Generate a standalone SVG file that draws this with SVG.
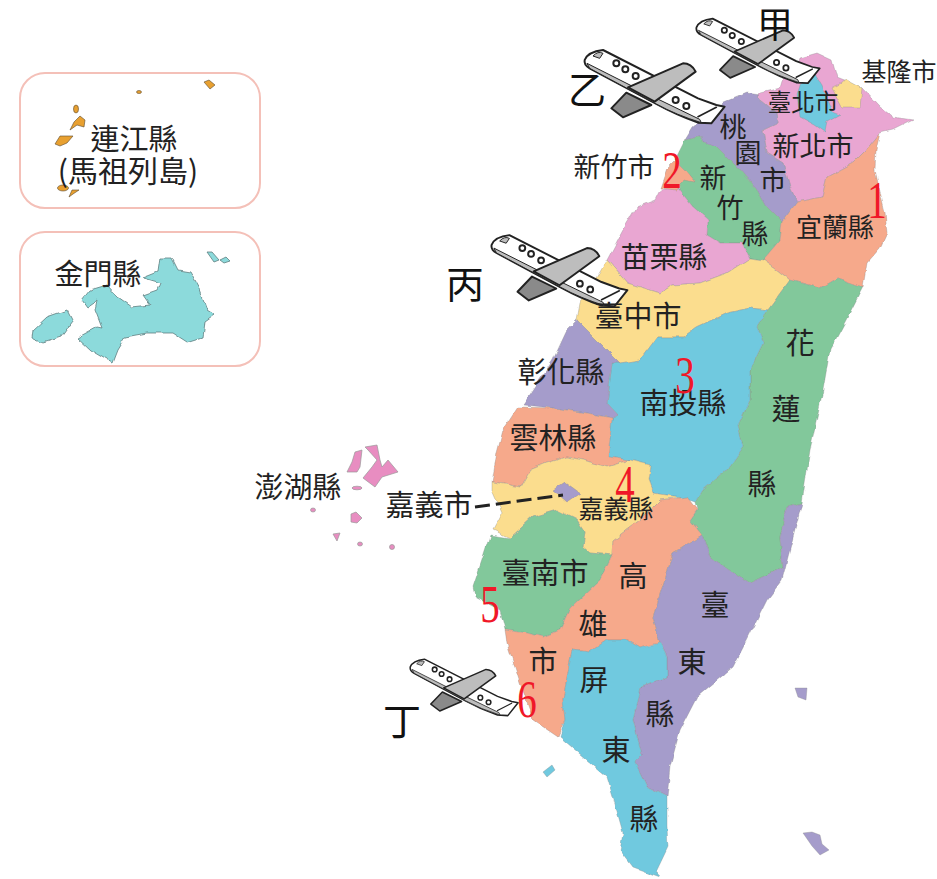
<svg xmlns="http://www.w3.org/2000/svg" xmlns:xlink="http://www.w3.org/1999/xlink" width="937" height="879" viewBox="0 0 937 879">
<style>
.pk{fill:#E9A6D2}.pu{fill:#A59CCB}.gr{fill:#82C89B}.sa{fill:#F6A98B}.ye{fill:#FBDD8E}.bl{fill:#70C9DF}
.c polygon{stroke:#8a8a8a;stroke-opacity:.35;stroke-width:1;stroke-linejoin:round}
.box{fill:#fff;stroke:#F4C0B8;stroke-width:2}
.kin{fill:#8CDADB;stroke:#5f7f80;stroke-width:.8}
.mat{fill:#E8A030;stroke:#5a4a30;stroke-width:.6}
.pen{fill:#E88DC1;stroke:#999;stroke-width:.7}
text{font-family:"Noto Sans CJK TC","Noto Sans CJK SC",sans-serif;fill:#222;text-anchor:middle}
.t29{font-size:29px}.t27{font-size:27px}.t26{font-size:26px}.t25{font-size:25px}.t23{font-size:23.5px}
.n{font-family:"Liberation Serif",serif;font-size:52px;fill:#F01828}
.k{font-size:38px;fill:#111}
.pb{fill:#fff;stroke:#222;stroke-width:6;stroke-linejoin:round}
.pw{fill:#bdbdbd;stroke:#222;stroke-width:6;stroke-linejoin:round}
.pd{fill:#8a8a8a;stroke:#222;stroke-width:6;stroke-linejoin:round}
.pl{fill:none;stroke:#222;stroke-width:5;stroke-linecap:round}
</style>
<defs>
<filter id="rough" x="-5%" y="-5%" width="110%" height="110%">
<feTurbulence type="fractalNoise" baseFrequency=".09" numOctaves="2" seed="4"/>
<feDisplacementMap in="SourceGraphic" scale="5" xChannelSelector="R" yChannelSelector="G"/>
</filter>
<g id="plane" transform="scale(.3333) translate(-70,-165)">
<path class="pd" d="M155 325L200 278L275 315L190 352Z"/>
<path class="pb" d="M75 180Q85 155 130 150L415 295L470 315L495 320L455 370L415 368Q350 345 290 312L90 205Q72 195 75 180Z"/>
<path class="pw" d="M82 190L290 295L420 358L425 368Q350 345 290 312L90 205Z" style="stroke-width:3"/>
<path class="pw" d="M100 168Q115 152 130 160L120 175Z" style="stroke-width:3"/>
<path class="pw" d="M205 262L370 190Q395 190 408 215L285 305Z"/>
<path class="pl" d="M415 350L470 322"/>
<circle class="pb" cx="170" cy="190" r="9"/><circle class="pb" cx="197" cy="208" r="9"/><circle class="pb" cx="228" cy="228" r="9"/>
<circle class="pb" cx="348" cy="300" r="9"/><circle class="pb" cx="380" cy="318" r="9"/>
</g>
</defs>

<g id="insets">
<rect class="box" x="20" y="73" width="240" height="135" rx="25"/>
<rect class="box" x="20" y="232" width="240" height="134" rx="25"/>
</g>

<g id="matsu">
<polygon class="mat" points="55,144 60,136 73,136 67,143 60,146"/>
<polygon class="mat" points="70,130 74,122 80,116 85,120 84,127 77,125"/>
<ellipse class="mat" cx="76" cy="109" rx="2.5" ry="4"/>
<ellipse class="mat" cx="63" cy="188" rx="5.5" ry="3"/>
<polygon class="mat" points="69,197 72,190 79,190 73,194"/>
<polygon class="mat" points="204,82 209,80 215,85 210,89"/>
<ellipse class="mat" cx="139" cy="92" rx="2.5" ry="1.5"/>
</g>

<g id="kinmen">
<polygon class="kin" filter="url(#rough)" points="143,278 158,272 160,258 172,258 178,270 190,272 200,290 207,310 215,315 205,322 203,337 187,342 173,333 147,333 125,337 117,350 112,363 90,350 77,338 97,327 102,328 95,310 97,300 87,307 82,300 90,290 107,285 118,297 132,307 150,305 143,295 157,290 160,283"/>
<polygon class="kin" filter="url(#rough)" points="33,330 47,317 67,310 73,322 62,337 43,343 32,338"/>
<polygon class="kin" points="207,252 212,252 219,260 214,262"/>
<polygon class="kin" points="220,260 226,257 230,261 224,263"/>
</g>

<g id="penghu">
<polygon class="pen" points="355,452 362,450 360,467 357,472 347,472 352,462"/>
<polygon class="pen" points="365,447 377,445 380,460 382,467 388,460 398,472 382,477 375,487 363,478 372,467 377,460 368,450"/>
<ellipse class="pen" cx="357" cy="488" rx="5" ry="1.8"/>
<ellipse class="pen" cx="313" cy="510" rx="2.5" ry="2"/>
<polygon class="pen" points="351,514 356,512 362,518 357,523 351,522"/>
<polygon class="pen" points="333,534 340,533 337,541"/>
<ellipse class="pen" cx="360" cy="544" rx="2.5" ry="2"/>
<ellipse class="pen" cx="392" cy="547" rx="2.5" ry="2.5"/>
</g>

<g id="taiwan" class="c" filter="url(#rough)">
<polygon id="xinbei" class="pk" points="800,58 817,53 832,60 837,78 847,82 862,88 880,107 893,117 913,120 893,130 880,133 866,150 853,163 827,177 822,197 797,202 790,187 783,163 767,153 763,130 778,123 777,113 757,97 760,93 780,88 783,78 793,80"/>
<polygon id="keelung" class="ye" points="832,88 847,80 862,88 860,107 842,107"/>
<polygon id="taipei" class="bl" points="803,76 815,74 822,85 827,100 832,112 840,115 827,122 825,132 815,125 800,117 797,95"/>
<polygon id="taoyuan" class="pu" points="693,127 723,103 747,93 760,95 757,97 777,113 778,123 763,130 767,153 783,163 790,187 797,202 782,222 767,207 757,190 737,167 717,147 703,143 700,137 685,140"/>
<polygon id="xinzhuxian" class="gr" points="685,140 700,137 703,143 717,147 737,167 757,190 767,207 782,222 780,240 763,260 750,258 742,243 720,243 707,235 708,220 693,207 677,187 685,170 675,160"/>
<polygon id="miaoli" class="pk" points="660,190 677,187 693,207 708,220 707,235 720,243 742,243 750,258 727,273 700,283 673,285 660,293 627,283 607,260 623,230 637,207 655,200"/>
<polygon id="xinzhushi" class="sa" points="667,168 675,160 685,170 695,182 683,180 677,190 660,188"/>
<polygon id="yilan" class="sa" points="880,133 866,150 853,163 827,177 822,197 797,202 782,222 780,240 763,260 777,270 790,280 820,288 837,278 863,287 867,263 880,248 887,233 885,213 875,170 876,150"/>
<polygon id="taichung" class="ye" points="607,260 627,283 660,293 673,285 700,283 727,273 750,258 763,260 777,270 790,280 768,310 750,308 727,313 697,327 683,337 657,337 640,360 620,363 607,350 577,320 580,303 597,277"/>
<polygon id="hualien" class="gr" points="790,280 820,288 837,278 863,287 845,322 830,350 823,390 810,450 802,503 787,507 780,537 783,567 750,583 710,557 702,535 690,520 697,510 695,502 703,490 727,470 743,447 738,425 750,400 750,370 763,343 757,327 768,310"/>
<polygon id="nantou" class="bl" points="768,310 757,327 763,343 750,370 750,400 738,425 743,447 727,470 703,490 695,502 680,497 653,493 648,480 650,465 630,460 608,457 610,437 612,418 618,415 607,403 612,363 620,363 640,360 657,337 683,337 697,327 727,313 750,308"/>
<polygon id="changhua" class="pu" points="577,320 607,350 620,363 612,363 607,403 618,415 612,418 587,413 553,408 523,405 533,390 553,360 567,330"/>
<polygon id="yunlin" class="sa" points="518,407 553,408 587,413 612,418 610,437 608,457 630,460 607,467 583,460 567,457 547,463 530,470 520,487 492,482 497,453 503,430"/>
<polygon id="chiayixian" class="ye" points="520,487 530,470 547,463 567,457 583,460 607,467 630,460 650,465 648,480 653,493 680,497 660,500 640,520 613,540 612,555 590,553 583,547 585,532 577,520 557,510 533,517 510,538 493,530 502,513 492,490 492,482"/>
<polygon id="chiayishi" class="pu" points="553,490 565,482 580,493 567,502"/>
<polygon id="tainan" class="gr" points="510,538 533,517 557,510 577,520 585,532 583,547 590,553 612,555 600,580 570,608 560,630 543,637 527,633 505,630 500,610 475,597 473,587 482,560 490,535"/>
<polygon id="kaohsiung" class="sa" points="660,500 687,497 697,510 690,520 702,535 673,553 665,580 653,617 660,643 650,645 640,648 627,640 607,640 590,652 572,650 563,700 565,720 558,737 533,720 520,683 507,643 505,630 527,633 543,637 560,630 570,608 600,580 612,555 613,540 640,520"/>
<polygon id="taitung" class="pu" points="702,535 710,557 750,583 783,567 780,537 787,507 802,503 782,580 767,600 747,640 733,667 697,697 680,730 670,767 667,797 647,787 635,762 642,755 633,720 640,687 667,678 667,657 660,643 653,617 665,580 673,553"/>
<polygon id="pingtung" class="bl" points="572,650 590,652 607,640 627,640 640,648 660,643 667,657 667,678 640,687 633,720 642,755 635,762 647,787 667,797 667,827 668,847 657,870 660,877 633,867 620,850 623,833 613,797 607,777 560,737 565,720 563,700"/>
</g>
<g id="islets" class="c">
<polygon id="liuqiu" class="bl" points="543,772 552,765 555,770 547,777"/>
<polygon id="lanyu" class="pu" points="803,833 812,832 820,835 822,844 829,850 820,855 812,846"/>
<polygon id="ludao" class="pu" points="795,688 807,688 806,700 798,697"/>
</g>

<g id="connectors">
<path d="M475 507L563 495" fill="none" stroke="#222" stroke-width="3" stroke-dasharray="15 6"/>
</g>

<g id="planes">
<use xlink:href="#plane" href="#plane" transform="translate(695,23) scale(.88)"/>
<use xlink:href="#plane" href="#plane" transform="translate(583,55)"/>
<use xlink:href="#plane" href="#plane" transform="translate(490,240) scale(.97)"/>
<use xlink:href="#plane" href="#plane" transform="translate(409,663) scale(.77)"/>
</g>

<g id="labels">
<text class="t29" x="134" y="150">連江縣</text>
<text style="font-size:30px" x="128" y="182">(馬祖列島)</text>
<text class="t29" x="98" y="285">金門縣</text>
<text class="t29" x="298" y="498">澎湖縣</text>
<text class="t29" x="429" y="516">嘉義市</text>
<text class="t25" x="899" y="81">基隆市</text>
<text class="t23" x="803" y="111">臺北市</text>
<text class="t27" x="813" y="156">新北市</text>
<text class="t27" x="614" y="177">新竹市</text>
<text class="t27" x="733" y="137">桃</text><text class="t27" x="748" y="163">園</text><text class="t27" x="773" y="190">市</text>
<text class="t27" x="713" y="188">新</text><text class="t27" x="730" y="218">竹</text><text class="t27" x="755" y="244">縣</text>
<text class="t26" x="835" y="237">宜蘭縣</text>
<text class="t29" x="664" y="268">苗栗縣</text>
<text class="t29" x="638" y="327">臺中市</text>
<text class="t29" x="561" y="383">彰化縣</text>
<text class="t29" x="683" y="414">南投縣</text>
<text class="t29" x="553" y="449">雲林縣</text>
<text class="t25" x="616" y="518">嘉義縣</text>
<text class="t29" x="545" y="584">臺南市</text>
<text class="t29" x="800" y="354">花</text><text class="t29" x="786" y="420">蓮</text><text class="t29" x="762" y="495">縣</text>
<text class="t29" x="633" y="587">高</text><text class="t29" x="593" y="635">雄</text><text class="t29" x="543" y="672">市</text>
<text class="t29" x="715" y="616">臺</text><text class="t29" x="692" y="673">東</text><text class="t29" x="660" y="725">縣</text>
<text class="t29" x="594" y="691">屏</text><text class="t29" x="616" y="761">東</text><text class="t29" x="644" y="830">縣</text>
<text class="n" transform="translate(877,218) scale(.75,1)">1</text>
<text class="n" transform="translate(672,188) scale(.75,1)">2</text>
<text class="n" transform="translate(685,393) scale(.75,1)">3</text>
<text class="n" transform="translate(625,502) scale(.75,1)">4</text>
<text class="n" transform="translate(490,622) scale(.75,1)">5</text>
<text class="n" transform="translate(527,717) scale(.75,1)">6</text>
<text class="k" style="font-size:36px" x="775" y="38">甲</text>
<text class="k" x="587" y="104">乙</text>
<text class="k" x="465" y="298">丙</text>
<text class="k" x="402" y="735">丁</text>
</g>
</svg>
